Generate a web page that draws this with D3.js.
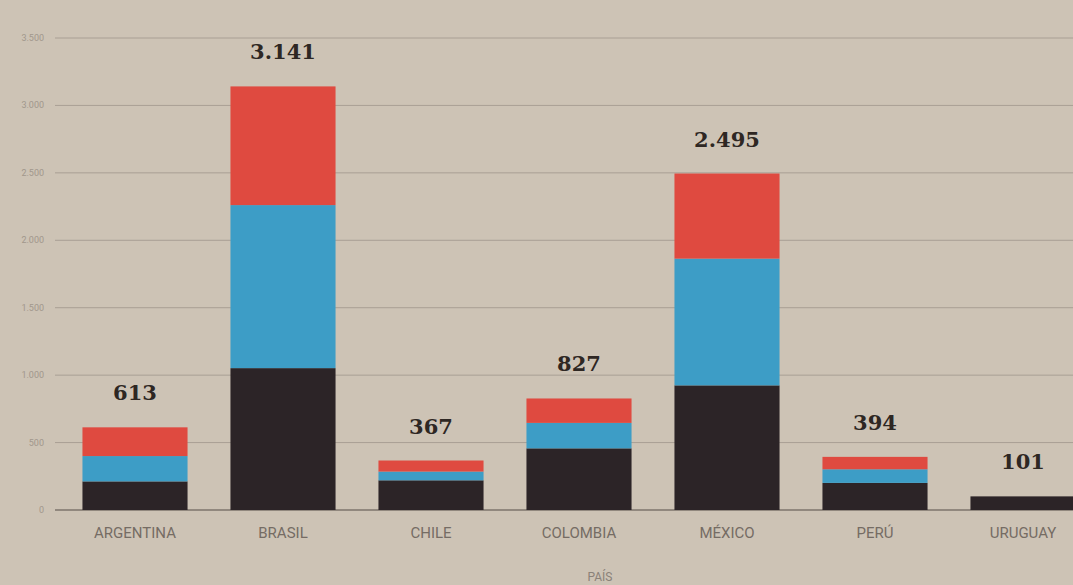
<!DOCTYPE html>
<html lang="es">
<head>
    <meta charset="UTF-8">
    <title>Casos por país</title>
    <style>
        body { margin: 0; background: #cdc3b5; }
    </style>
</head>
<body>
<div id="chart"></div>
<script src="https://cdn.jsdelivr.net/npm/d3@7"></script>
<script>
    const width = 1073,
        height = 585;

    // datos
    const paises = ["ARGENTINA", "BRASIL", "CHILE", "COLOMBIA", "MÉXICO", "PERÚ", "URUGUAY"];
    const negro = [212, 1052, 220, 457, 924, 201, 101];
    const azul = [188, 1209, 65, 189, 940, 101, 0];
    const rojo = [213, 880, 82, 181, 631, 92, 0];
    const totales = [613, 3141, 367, 827, 2495, 394, 101];
    const ticks = [0, 500, 1000, 1500, 2000, 2500, 3000, 3500];

    const series = ["negro", "azul", "rojo"];
    const colores = {negro: "#2c2427", azul: "#3d9dc6", rojo: "#df4a40"};

    const tabla = paises.map((p, i) => ({pais: p, negro: negro[i], azul: azul[i], rojo: rojo[i], total: totales[i]}));

    let svg = d3.select("#chart")
        .append("svg")
        .attr("width", width)
        .attr("height", height)
        .style("display", "block")
        .style("background-color", "#cdc3b5");

    const x = d3.scaleBand()
        .domain(paises)
        .range([61, 1097])
        .paddingInner(0.29)
        .paddingOuter(0.145);

    const y = d3.scaleLinear()
        .domain([0, 3500])
        .range([510, 38]);

    const fmt = d3.formatLocale({decimal: ",", thousands: ".", grouping: [3], currency: ["", "€"]}).format(",d");

    // rejilla
    let grid = svg.append("g");
    grid.selectAll("line")
        .data(ticks)
        .join("line")
        .attr("x1", 55)
        .attr("x2", width)
        .attr("y1", d => y(d))
        .attr("y2", d => y(d))
        .attr("stroke", d => d === 0 ? "#7d746c" : "#a99f94")
        .attr("stroke-width", d => d === 0 ? 1.5 : 1);

    grid.selectAll("text")
        .data(ticks)
        .join("text")
        .attr("x", 44)
        .attr("y", d => y(d) + 3)
        .attr("text-anchor", "end")
        .attr("font-family", "Roboto, sans-serif")
        .attr("font-size", 9)
        .attr("fill", "#a1978c")
        .text(d => fmt(d));

    // barras apiladas
    const stack = d3.stack().keys(series)(tabla);

    svg.append("g")
        .selectAll("g")
        .data(stack)
        .join("g")
        .attr("fill", d => colores[d.key])
        .selectAll("rect")
        .data(d => d)
        .join("rect")
        .attr("x", d => x(d.data.pais))
        .attr("width", x.bandwidth())
        .attr("y", d => y(d[1]))
        .attr("height", d => y(d[0]) - y(d[1]));

    // totales
    svg.append("g")
        .selectAll("text")
        .data(tabla)
        .join("text")
        .attr("x", d => x(d.pais) + x.bandwidth() / 2)
        .attr("y", d => y(d.total) - 27)
        .attr("text-anchor", "middle")
        .attr("font-family", "'DejaVu Serif', serif")
        .attr("font-weight", "bold")
        .attr("font-size", 21)
        .attr("fill", "#2e2723")
        .text(d => fmt(d.total));

    // eje x
    svg.append("g")
        .selectAll("text")
        .data(paises)
        .join("text")
        .attr("x", d => x(d) + x.bandwidth() / 2)
        .attr("y", 538)
        .attr("text-anchor", "middle")
        .attr("font-family", "Roboto, sans-serif")
        .attr("font-size", 15)
        .attr("fill", "#756c64")
        .text(d => d);

    svg.append("text")
        .attr("x", 600)
        .attr("y", 581)
        .attr("text-anchor", "middle")
        .attr("font-family", "Roboto, sans-serif")
        .attr("font-size", 12)
        .attr("fill", "#8a8178")
        .text("PAÍS");
</script>
</body>
</html>
